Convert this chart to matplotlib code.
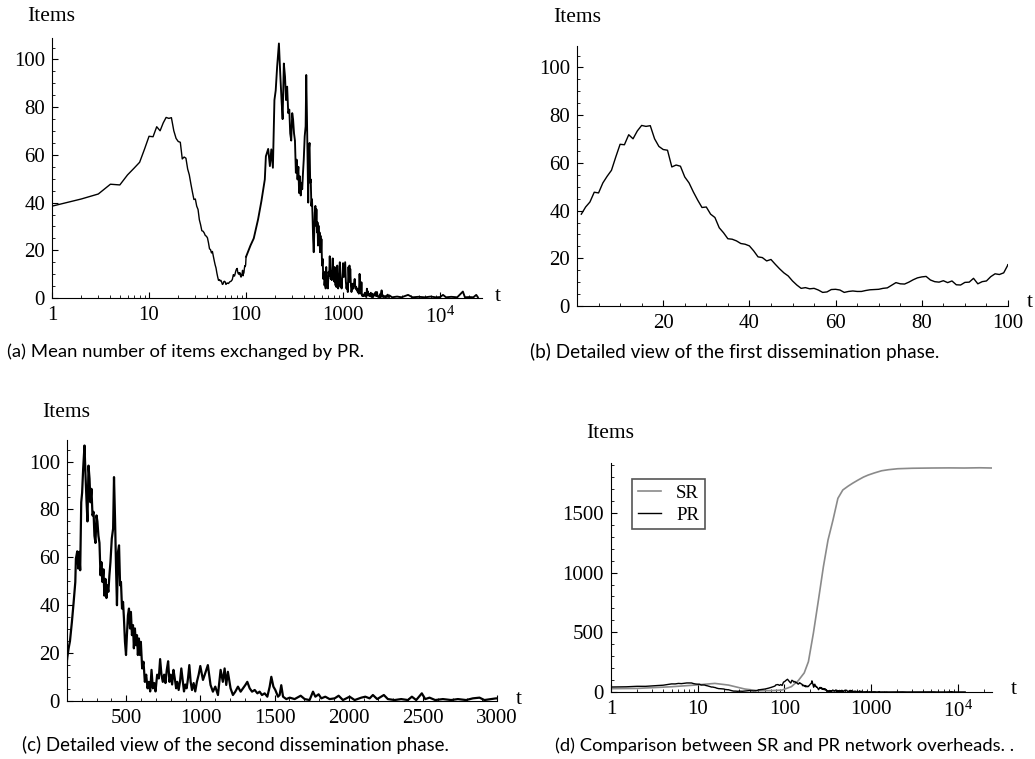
import matplotlib
matplotlib.use('Agg')
import matplotlib.pyplot as plt
import numpy as np
from matplotlib.ticker import MultipleLocator, LogLocator, FixedLocator, FixedFormatter, NullFormatter

plt.rcParams['font.family'] = ['Liberation Serif', 'DejaVu Serif']
plt.rcParams['mathtext.fontset'] = 'custom'
plt.rcParams['mathtext.rm'] = 'Liberation Serif'
plt.rcParams['mathtext.it'] = 'Liberation Serif:italic'

# ---------------- data ----------------
# PR: mean number of items exchanged, t = 1..100 (detailed)
pr_t_early = list(range(1, 101))
pr_early = [38.5, 41.5, 43.6, 47.7, 47.4, 51.6, 54.4, 56.9, 62.5, 67.8,
            67.6, 71.8, 70.1, 73.4, 75.7, 75.3, 75.6, 70.1, 66.9, 65.6,
            65.3, 58.3, 59.1, 58.6, 54.1, 51.6, 47.8, 44.4, 41.3, 41.5,
            38.5, 37.1, 32.8, 30.7, 28.2, 28.0, 27.3, 26.2, 25.9, 25.2,
            23.1, 20.6, 20.3, 18.9, 19.5, 17.5, 15.6, 13.9, 12.6, 10.5,
            8.8, 7.4, 7.7, 7.2, 7.4, 6.7, 5.7, 5.9, 6.9, 7.0,
            6.7, 5.7, 6.1, 6.3, 6.1, 6.1, 6.5, 6.8, 6.9, 7.0,
            7.4, 7.6, 8.7, 9.8, 9.3, 9.2, 10.0, 11.0, 11.8, 12.2,
            12.4, 10.9, 10.2, 10.0, 10.6, 9.8, 10.5, 8.9, 8.8, 9.9,
            10.0, 11.6, 9.3, 10.2, 10.5, 12.3, 13.5, 13.2, 13.9, 17.3]

# PR, second dissemination phase (t > 100)
pr_t_mid = [111, 120, 133, 144, 156, 160, 169, 176, 182, 189, 196, 202, 209, 218, 225,
            232, 238, 245, 252, 258, 265, 272, 279, 285, 292, 299, 305, 312, 319, 326,
            332, 339, 346, 352, 359, 366, 372, 379, 386, 393, 402, 411, 417, 424, 431,
            437, 444, 451, 458, 464, 471, 478, 484, 491, 498, 504, 511, 518, 525, 531,
            538, 545, 551, 558, 565, 572, 578, 585, 592, 598, 607, 616, 625, 634, 643,
            652, 661, 670, 679, 688, 697, 708, 719, 728, 737, 746, 755, 764, 773, 782,
            791, 800, 809, 818, 827, 836, 844, 853, 862, 871, 880, 889, 898, 907, 916,
            925, 934, 943, 954, 965, 976, 988, 999, 1017, 1028, 1050, 1068, 1084, 1100, 1118,
            1136, 1151, 1163, 1174, 1185, 1203, 1219, 1235, 1253, 1271, 1287, 1303, 1316, 1332, 1348,
            1366, 1384, 1399, 1415, 1433, 1451, 1467, 1478, 1492, 1505, 1523, 1534, 1545, 1557, 1579,
            1602, 1635, 1676, 1703, 1736, 1759, 1775, 1797, 1815, 1842, 1871, 1905, 1932, 1961, 2006,
            2040, 2085, 2112, 2141, 2163, 2192, 2237, 2264, 2309, 2354, 2399, 2426, 2455, 2493, 2516,
            2545, 2583, 2635, 2691, 2736, 2792, 2837, 2882, 2915, 2960, 2994]
pr_mid = [22, 25, 33, 40.7, 49.7, 59.4, 62.5, 55.3, 62.3, 54.6, 83, 87, 97, 106.7, 94,
          83, 75, 98.3, 92.8, 83, 88.6, 77.5, 79, 69, 66, 77.5, 75, 69, 66, 52.5,
          58, 49.7, 55, 44, 51, 43, 48.3, 45.6, 52.5, 58, 67.8, 72, 93.5, 76, 55,
          40, 62.3, 65, 48.3, 49.7, 38.6, 41.4, 34.5, 24.7, 19.2, 27.5, 35.8, 38.6, 30.3, 37.2,
          27.5, 31.7, 22, 30.3, 23.3, 27.5, 19.2, 26.1, 19.2, 24.7, 13.6, 16.4, 8, 11, 5.3,
          8, 4, 13, 5.3, 7.5, 4, 11, 9.4, 17.5, 11, 8, 11, 7.5, 13, 16.6,
          8, 11, 6.9, 13, 9.4, 5.3, 8, 4.6, 8, 13.6, 8.8, 4, 6.9, 5.3, 9.4,
          15, 8, 4.6, 7.5, 4, 8, 11, 14.6, 8.8, 10.8, 15, 6.7, 3.9, 6, 2.5,
          13, 8, 13.6, 6.7, 12.2, 5.3, 2.5, 3.9, 6, 3.9, 5.3, 6.7, 8, 5.3, 3.9,
          4.6, 3.2, 3.9, 2.5, 3.2, 1.8, 6, 10.1, 6, 4.6, 1.8, 2.5, 6.6, 1.8, 0.8,
          1.4, 0.8, 2.2, 0.8, 0.4, 3.9, 1.8, 2.8, 1.1, 1.8, 0.8, 1.1, 2.2, 0.4, 1.8,
          0.4, 1.4, 1.8, 1.1, 2.5, 0.8, 2.5, 0.8, 0.4, 0.8, 0.4, 1.8, 0.4, 3.2, 0.8,
          1.4, 0.4, 0.8, 0.4, 0.8, 0.4, 1.1, 1.4, 0.4, 0.8, 1.1]

# PR, long tail
pr_t_tail = [3200, 3600, 4000, 4670, 5200, 6000, 7000, 8000, 9000, 10000,
             10700, 11500, 13000, 15000, 17150, 18000, 20000, 22000, 23550, 24500]
pr_tail = [0.3, 0.6, 0.3, 1.3, 0.3, 0.5, 0.3, 0.6, 0.3, 0.4,
           1.3, 0.3, 0.5, 0.3, 2.7, 0.3, 0.4, 0.3, 1.3, 0.3]

# SR network overhead (panel d)
sr_t = [1, 2, 5, 9.3, 15.8, 22.7, 35, 50, 72, 94, 121, 145, 170, 190, 217, 248, 283,
        320, 365, 416, 474, 548, 620, 710, 820, 930, 1100, 1330, 1600, 2040, 3000,
        5060, 8000, 12000, 18000, 25000]
sr = [28, 30, 44, 58, 72, 58, 25, 11, 12, 16, 45, 95, 160, 254, 494, 770, 1050,
      1273, 1440, 1622, 1692, 1725, 1750, 1775, 1800, 1817, 1835, 1853, 1862, 1870, 1874,
      1876, 1877, 1876, 1878, 1876]
pr_time_scale_d = 0.5   # PR is drawn on a halved time base in panel (d)

pr_t = np.array(pr_t_early + pr_t_mid + pr_t_tail, dtype=float)
pr = np.array(pr_early + pr_mid + pr_tail, dtype=float)
n_early = len(pr_t_early)

# ---------------- layout ----------------
W, H = 1035, 759
fig = plt.figure(figsize=(W / 100, H / 100), dpi=100)

TICK_FS = 15
LABEL_FS = 15.5


def add_axes(l, t, r, b):
    return fig.add_axes([l / W, 1 - b / H, (r - l) / W, (b - t) / H])


def style(ax):
    for s in ['top', 'right']:
        ax.spines[s].set_visible(False)
    for s in ['left', 'bottom']:
        ax.spines[s].set_linewidth(0.8)
    ax.tick_params(which='major', direction='in', length=4.5, width=0.8, labelsize=TICK_FS)
    ax.tick_params(which='minor', direction='in', length=2.2, width=0.6)
    ax.tick_params(axis='x', which='major', pad=6)
    ax.tick_params(axis='y', which='major', pad=5)
    ax.patch.set_visible(False)


def ftext(x, y, s, **kw):
    return fig.text(x / W, 1 - y / H, s, **kw)


def caption(x, y, s, target_w):
    t = ftext(x, y, s, family=['Lato', 'DejaVu Sans'], fontsize=11, va='center', ha='left')
    r = fig.canvas.get_renderer()
    w = t.get_window_extent(r).width
    t.set_fontsize(11 * target_w / w)


def items_ticks(ax):
    ax.set_ylim(0, 109)
    ax.yaxis.set_major_locator(FixedLocator([0, 20, 40, 60, 80, 100]))
    ax.yaxis.set_minor_locator(MultipleLocator(5))


def plot_pr(ax, lw_early, lw_noisy, scale=1.0):
    # smooth first phase thin, noisy second phase slightly heavier
    ax.plot(pr_t[:n_early] * scale, pr[:n_early], color='black', lw=lw_early)
    ax.plot(pr_t[n_early - 1:] * scale, pr[n_early - 1:], color='black', lw=lw_noisy)


log_major = [1, 10, 100, 1000, 10000]
log_labels = ['1', '10', '100', '1000', r'$\mathregular{10^{4}}$']

# (a)
axa = add_axes(52, 38, 482, 298)
style(axa)
plot_pr(axa, 1.0, 1.35)
axa.set_xscale('log')
axa.set_xlim(1, 27000)
items_ticks(axa)
axa.xaxis.set_major_locator(FixedLocator(log_major))
axa.xaxis.set_major_formatter(FixedFormatter(log_labels))
axa.xaxis.set_minor_locator(LogLocator(base=10, subs=range(2, 10), numticks=20))
axa.xaxis.set_minor_formatter(NullFormatter())

# (b)
axb = add_axes(577, 46, 1008, 306)
style(axb)
plot_pr(axb, 1.0, 1.0)
axb.set_xlim(0, 100)
items_ticks(axb)
axb.xaxis.set_major_locator(FixedLocator([20, 40, 60, 80, 100]))
axb.xaxis.set_minor_locator(MultipleLocator(5))

# (c)
axc = add_axes(67, 440, 497, 701)
style(axc)
plot_pr(axc, 1.6, 1.6)
axc.set_xlim(100, 3000)
items_ticks(axc)
axc.xaxis.set_major_locator(FixedLocator([500, 1000, 1500, 2000, 2500, 3000]))
axc.xaxis.set_minor_locator(MultipleLocator(100))

# (d)
axd = add_axes(611, 463, 992, 692)
style(axd)
axd.plot(sr_t, sr, color='#8a8a8a', lw=1.2, label='SR')
axd.plot(pr_t * pr_time_scale_d, pr, color='black', lw=1.0, label='PR')
axd.set_xscale('log')
axd.set_xlim(1, 25000)
axd.set_ylim(0, 1918)
axd.yaxis.set_major_locator(FixedLocator([0, 500, 1000, 1500]))
axd.yaxis.set_minor_locator(MultipleLocator(100))
axd.xaxis.set_major_locator(FixedLocator(log_major))
axd.xaxis.set_major_formatter(FixedFormatter(log_labels))
axd.xaxis.set_minor_locator(LogLocator(base=10, subs=range(2, 10), numticks=20))
axd.xaxis.set_minor_formatter(NullFormatter())
axd.tick_params(axis='x', which='major', length=6)
leg = axd.legend(loc='upper left', bbox_to_anchor=(0.055, 0.930), borderaxespad=0,
                 fancybox=False, framealpha=1, edgecolor='#555555', fontsize=13.5,
                 handlelength=1.25, handletextpad=0.8, borderpad=0.3, labelspacing=0.25)
leg.get_frame().set_linewidth(1.2)

# axis labels
for (x, y) in [(51, 16.5), (577, 17.5), (66, 412.5), (610, 434)]:
    ftext(x, y, 'Items', fontsize=LABEL_FS, ha='center', va='center')
for (x, y) in [(497.5, 296.5), (1030, 302), (519, 699), (1014, 690)]:
    ftext(x, y, 't', fontsize=LABEL_FS, ha='center', va='center')

# captions
caption(7, 352, '(a) Mean number of items exchanged by PR.', 356)
caption(530, 352, '(b) Detailed view of the first dissemination phase.', 407)
caption(22, 745, '(c) Detailed view of the second dissemination phase.', 426)
caption(555, 745.5, '(d) Comparison between SR and PR network overheads. .', 460)

fig.savefig('out.png', dpi=100)
